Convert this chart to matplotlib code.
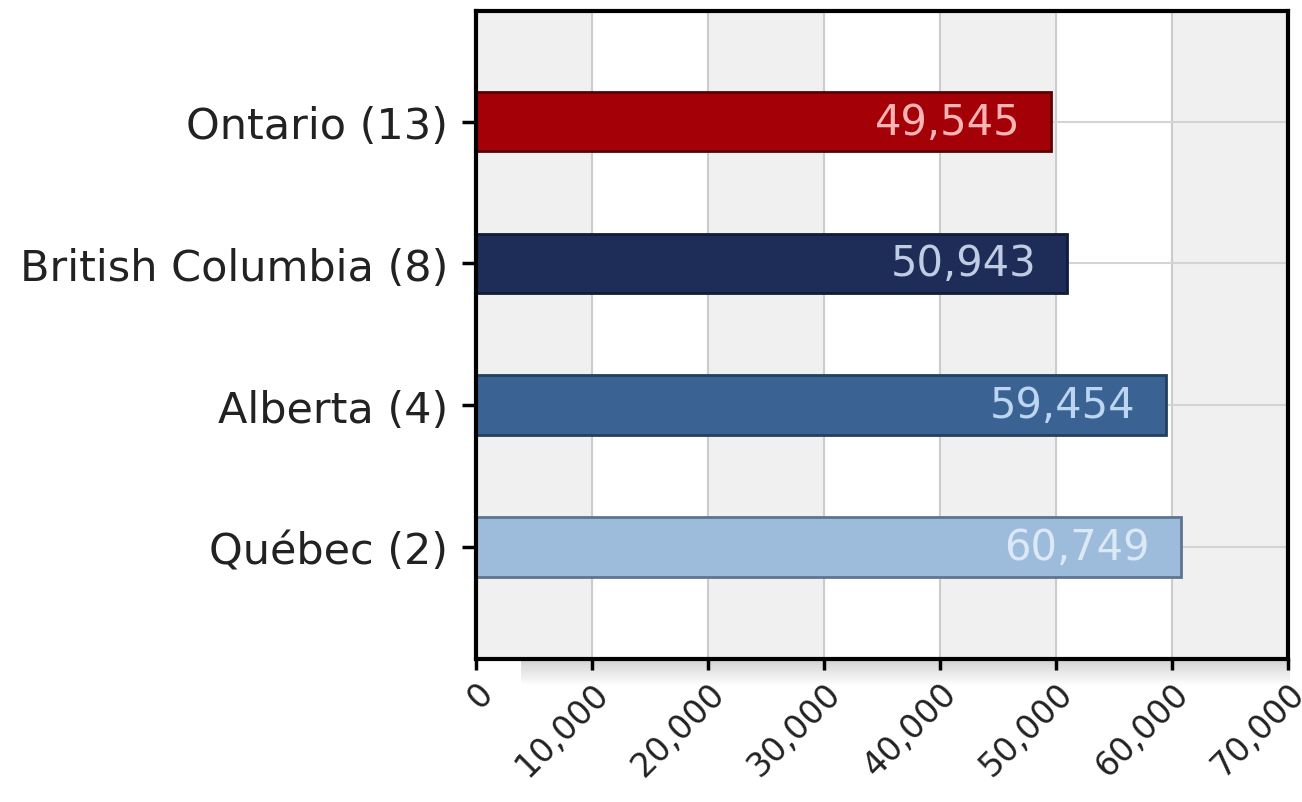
import matplotlib.pyplot as plt
import numpy as np

# data
provinces = ['Ontario (13)', 'British Columbia (8)', 'Alberta (4)', 'Québec (2)']
values = [49545, 50943, 59454, 60749]
bar_colors = ['#a30008', '#1e2d58', '#3a6394', '#9dbcdc']
edge_colors = ['#5a0005', '#121c38', '#23405f', '#5d7590']
label_colors = ['#ffb4b4', '#c0cbe4', '#bcd6f2', '#dbe8f6']
x_ticks = [0, 10000, 20000, 30000, 40000, 50000, 60000, 70000]

fig = plt.figure(figsize=(13.02, 8.03), dpi=100)

# faint drop shadow under the x axis
shadow = fig.add_axes([0.40, 0.145, 0.59, 0.033], zorder=0)
grad = np.linspace(0.82, 1.0, 50).reshape(-1, 1)
shadow.imshow(grad, cmap='gray', vmin=0, vmax=1, aspect='auto', extent=[0, 1, 0, 1])
shadow.axis('off')

ax = fig.add_axes([0.3656, 0.178, 0.6236, 0.807], zorder=1)

ypos = np.arange(len(provinces))
ax.set_xlim(0, 70000)
ax.set_ylim(3.79, -0.78)

# alternating column shading
for i in range(0, len(x_ticks) - 1, 2):
    ax.axvspan(x_ticks[i], x_ticks[i + 1], color='#f0f0f0', zorder=0, lw=0)
for xt in x_ticks[1:-1]:
    ax.axvline(xt, color='#cccccc', lw=1.5, zorder=1)
for y in ypos:
    ax.axhline(y, color='#d4d4d4', lw=1.5, zorder=1)

ax.barh(ypos, values, height=0.42, color=bar_colors, edgecolor=edge_colors,
        linewidth=2, zorder=2)

for y, v, c in zip(ypos, values, label_colors):
    ax.annotate(f'{v:,}', xy=(v, y), xytext=(-22, 0), textcoords='offset points',
                ha='right', va='center', color=c, fontsize=30, zorder=3)

ax.set_yticks(ypos)
ax.set_yticklabels(provinces, fontsize=31, color='#222222')
ax.set_xticks(x_ticks)
ax.set_xticklabels([f'{t:,}' for t in x_ticks], rotation=45, ha='right',
                   rotation_mode='anchor', fontsize=24, color='#222222')
ax.tick_params(axis='both', direction='out', width=2.5, color='black')
ax.tick_params(axis='y', length=10, pad=10)
ax.tick_params(axis='x', length=8, pad=4)
for lbl in ax.get_xticklabels():
    lbl.set_x(lbl.get_position()[0])

for s in ax.spines.values():
    s.set_linewidth(3)
    s.set_color('black')

fig.savefig('out.png', dpi=100)
